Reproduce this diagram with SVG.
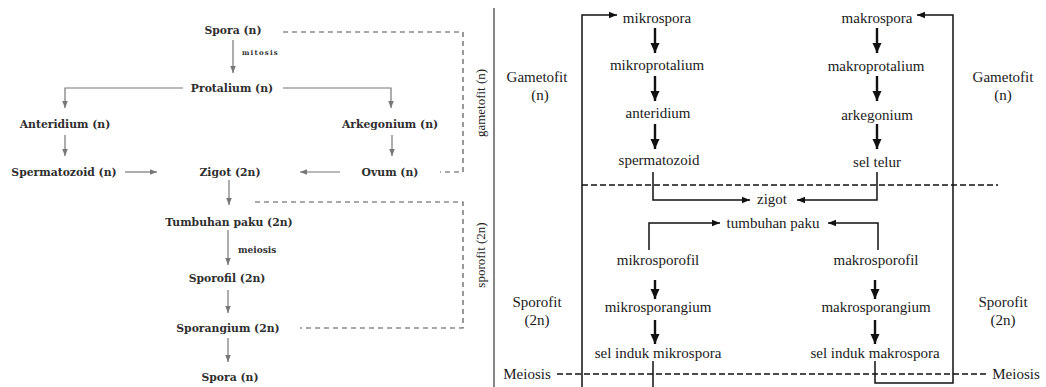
<svg xmlns="http://www.w3.org/2000/svg" width="1046" height="387" viewBox="0 0 1046 387">
<defs>
<style>
.lt{font-family:"DejaVu Serif","Liberation Serif",serif;font-weight:bold;font-size:10.8px;fill:#2e2e2e;text-anchor:middle}
.sm{font-family:"DejaVu Serif","Liberation Serif",serif;font-weight:bold;font-size:8px;fill:#333}
.rot{font-family:"Liberation Serif",serif;font-size:13px;fill:#222;text-anchor:middle}
.rt{font-family:"Liberation Serif",serif;font-size:15px;fill:#1a1a1a;text-anchor:middle}
.ga{fill:none;stroke:#777;stroke-width:1.2;marker-end:url(#ag)}
.gd{fill:none;stroke:#555;stroke-width:1.2;stroke-dasharray:5 4}
.bk{fill:none;stroke:#111;stroke-width:1.5}
.bc{fill:none;stroke:#111;stroke-width:1.5;marker-end:url(#ab)}
.bt{fill:none;stroke:#111;stroke-width:2.4;marker-end:url(#abt)}
.bd{fill:none;stroke:#111;stroke-width:1.5;stroke-dasharray:6 3}
</style>
<marker id="ag" viewBox="0 0 10 10" refX="10" refY="5" markerWidth="7" markerHeight="7" markerUnits="userSpaceOnUse" orient="auto"><path d="M0,1 L10,5 L0,9 z" fill="#777"/></marker>
<marker id="ab" viewBox="0 0 10 10" refX="10" refY="5" markerWidth="9" markerHeight="8" markerUnits="userSpaceOnUse" orient="auto"><path d="M0,1 L10,5 L0,9 z" fill="#111"/></marker>
<marker id="abt" viewBox="0 0 10 10" refX="10" refY="5" markerWidth="11" markerHeight="10" markerUnits="userSpaceOnUse" orient="auto"><path d="M0,0.5 L10,5 L0,9.5 z" fill="#111"/></marker>
</defs>
<rect width="1046" height="387" fill="#fff"/>

<!-- LEFT DIAGRAM -->
<g id="connectors-left">
<path class="ga" d="M233,40 V73"/>
<path class="ga" d="M183,88 H65 V108"/>
<path class="ga" d="M283,88 H391 V108"/>
<path class="ga" d="M65,135 V156"/>
<path class="ga" d="M392,135 V156"/>
<path class="ga" d="M125,172 H157"/>
<path class="ga" d="M340,172 H300"/>
<path class="ga" d="M229,180 V205"/>
<path class="ga" d="M228,230 V265"/>
<path class="ga" d="M228,290 V313"/>
<path class="ga" d="M228,338 V362"/>
<path class="gd" d="M283,32 H463 V172 H440"/>
<path class="gd" d="M255,202 H463 V328 H300"/>
</g>
<g id="spora1"><text class="lt" x="233" y="34">Spora (n)</text></g>
<g id="mitosis"><text class="sm" x="242" y="55" style="font-size:7px;letter-spacing:1.2px">mitosis</text></g>
<g id="protalium"><text class="lt" x="232" y="92">Protalium (n)</text></g>
<g id="anteridium"><text class="lt" x="65" y="128">Anteridium (n)</text></g>
<g id="arkegonium"><text class="lt" x="390" y="128">Arkegonium (n)</text></g>
<g id="spermatozoid"><text class="lt" x="64" y="176">Spermatozoid (n)</text></g>
<g id="zigot"><text class="lt" x="230" y="176">Zigot (2n)</text></g>
<g id="ovum"><text class="lt" x="390" y="176">Ovum (n)</text></g>
<g id="tumbuhan"><text class="lt" x="229" y="226">Tumbuhan paku (2n)</text></g>
<g id="meiosis-l"><text class="sm" x="238" y="253" style="font-size:9px">meiosis</text></g>
<g id="sporofil"><text class="lt" x="227" y="282">Sporofil (2n)</text></g>
<g id="sporangium"><text class="lt" x="228" y="332">Sporangium (2n)</text></g>
<g id="spora2"><text class="lt" x="230" y="381">Spora (n)</text></g>
<g id="label-gametofit"><text class="rot" transform="translate(485,103) rotate(-90)">gametofit (n)</text></g>
<g id="label-sporofit"><text class="rot" transform="translate(485,255) rotate(-90)">sporofit (2n)</text></g>

<!-- divider -->
<line x1="494" y1="8" x2="494" y2="387" stroke="#444" stroke-width="1.3"/>

<!-- RIGHT DIAGRAM -->
<g id="connectors-right">
<path class="bc" d="M582,387 V15 H617"/>
<path class="bc" d="M875,361 V383 H953 V15 H917"/>
<path class="bk" d="M653,361 V387"/>
<path class="bc" d="M653,172 V200 H750"/>
<path class="bc" d="M877,172 V200 H797"/>
<path class="bc" d="M649,250 V223 H720"/>
<path class="bc" d="M878,250 V223 H828"/>
<path class="bt" d="M655,28 V53"/>
<path class="bt" d="M655,76 V101"/>
<path class="bt" d="M655,124 V149"/>
<path class="bt" d="M877,28 V53"/>
<path class="bt" d="M877,76 V101"/>
<path class="bt" d="M877,124 V149"/>
<path class="bt" d="M655,280 V299"/>
<path class="bt" d="M655,320 V344"/>
<path class="bt" d="M875,280 V299"/>
<path class="bt" d="M875,320 V344"/>
<path class="bd" d="M582,185 H998"/>
<path class="bd" d="M557,374 H988"/>
</g>
<g id="mikrospora"><text class="rt" x="657" y="23">mikrospora</text></g>
<g id="mikroprotalium"><text class="rt" x="657" y="70">mikroprotalium</text></g>
<g id="anteridium-r"><text class="rt" x="658" y="118">anteridium</text></g>
<g id="spermatozoid-r"><text class="rt" x="659" y="165">spermatozoid</text></g>
<g id="makrospora"><text class="rt" x="877" y="23">makrospora</text></g>
<g id="makroprotalium"><text class="rt" x="876" y="71">makroprotalium</text></g>
<g id="arkegonium-r"><text class="rt" x="877" y="120">arkegonium</text></g>
<g id="sel-telur"><text class="rt" x="877" y="167">sel telur</text></g>
<g id="zigot-r"><text class="rt" x="772" y="204">zigot</text></g>
<g id="tumbuhan-r"><text class="rt" x="773" y="228">tumbuhan paku</text></g>
<g id="mikrosporofil"><text class="rt" x="658" y="265">mikrosporofil</text></g>
<g id="makrosporofil"><text class="rt" x="876" y="265">makrosporofil</text></g>
<g id="mikrosporangium"><text class="rt" x="658" y="312">mikrosporangium</text></g>
<g id="makrosporangium"><text class="rt" x="876" y="312">makrosporangium</text></g>
<g id="sel-induk-mikro"><text class="rt" x="658" y="358">sel induk mikrospora</text></g>
<g id="sel-induk-makro"><text class="rt" x="875" y="358">sel induk makrospora</text></g>
<g id="gametofit-l"><text class="rt" x="537" y="82">Gametofit</text><text class="rt" x="540" y="100">(n)</text></g>
<g id="gametofit-r"><text class="rt" x="1003" y="82">Gametofit</text><text class="rt" x="1003" y="100">(n)</text></g>
<g id="sporofit-l"><text class="rt" x="537" y="307">Sporofit</text><text class="rt" x="537" y="325">(2n)</text></g>
<g id="sporofit-r"><text class="rt" x="1003" y="307">Sporofit</text><text class="rt" x="1003" y="325">(2n)</text></g>
<g id="meiosis-rl"><text class="rt" x="527" y="379">Meiosis</text></g>
<g id="meiosis-rr"><text class="rt" x="1016" y="379">Meiosis</text></g>
</svg>
